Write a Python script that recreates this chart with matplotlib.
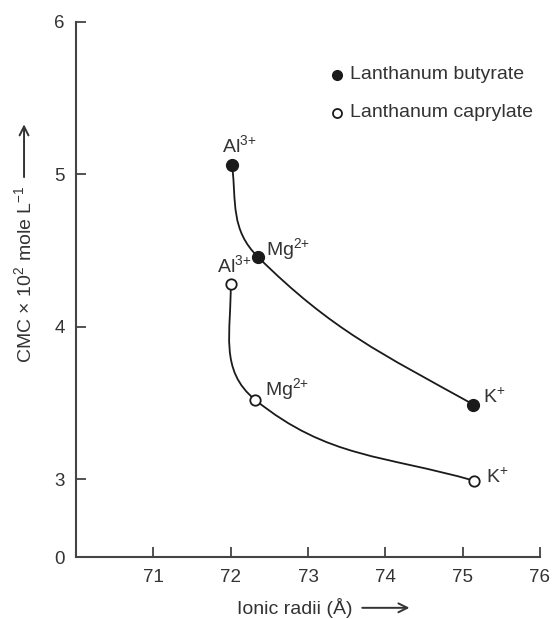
import numpy as np
import matplotlib
matplotlib.use("Agg")
import matplotlib.pyplot as plt
from matplotlib.path import Path
from matplotlib.patches import PathPatch
from matplotlib.text import OffsetFrom

# ---------------- data ----------------
ions = ["Al$^{3{+}}$", "Mg$^{2{+}}$", "K$^{{+}}$"]
butyrate_x = [72.02, 72.35, 75.14]
butyrate_y = [5.06, 4.46, 3.49]
caprylate_x = [72.00, 72.32, 75.15]
caprylate_y = [4.28, 3.52, 2.99]
series_labels = ["Lanthanum butyrate", "Lanthanum caprylate"]
x_ticks = [71, 72, 73, 74, 75, 76]
y_tick_values = [3, 4, 5, 6]
y_tick_labels = ["0", "3", "4", "5", "6"]
y_break_bottom = 2.49   # position of the "0" label on the broken axis

plt.rcParams["font.family"] = ["Liberation Sans", "DejaVu Sans"]
plt.rcParams["mathtext.fontset"] = "custom"
plt.rcParams["mathtext.rm"] = "Liberation Sans"
plt.rcParams["mathtext.it"] = "Liberation Sans:italic"
plt.rcParams["mathtext.bf"] = "Liberation Sans:bold"

TXT = "#333333"
INK = "#1a1a1a"

fig = plt.figure(figsize=(5.54, 6.19), dpi=100)
ax = fig.add_axes([76 / 554, 1 - 557 / 619, 464 / 554, 535 / 619])
ax.set_xlim(70, 76)
ax.set_ylim(y_break_bottom, 6)
for s in ["top", "right"]:
    ax.spines[s].set_visible(False)
for s in ["left", "bottom"]:
    ax.spines[s].set_linewidth(1.5)
    ax.spines[s].set_color("#444444")

ax.set_xticks(x_ticks)
ax.set_xticklabels([str(t) for t in x_ticks])
ax.set_yticks([y_break_bottom] + y_tick_values)
ax.set_yticklabels(y_tick_labels)
ax.tick_params(axis="both", direction="in", length=7, width=1.3, color="#444444",
               labelsize=13.5, labelcolor=TXT)
ax.tick_params(axis="x", pad=9)
ax.tick_params(axis="y", pad=8)
ax.yaxis.get_major_ticks()[0].tick1line.set_visible(False)


def smooth_curve(xs, ys, start_deg, end_deg, k):
    P = ax.transData.transform(np.column_stack([xs, ys]))
    n = len(P)
    T = np.zeros_like(P)
    for i in range(1, n - 1):
        d = P[i + 1] - P[i - 1]
        T[i] = d / np.hypot(*d)
    a0, a1 = np.radians(start_deg), np.radians(end_deg)
    T[0] = [np.cos(a0), np.sin(a0)]
    T[-1] = [np.cos(a1), np.sin(a1)]
    verts = [P[0]]
    codes = [Path.MOVETO]
    for i in range(n - 1):
        L = np.hypot(*(P[i + 1] - P[i]))
        verts += [P[i] + T[i] * L * k, P[i + 1] - T[i + 1] * L * k, P[i + 1]]
        codes += [Path.CURVE4] * 3
    verts = ax.transData.inverted().transform(np.array(verts))
    return Path(verts, codes)


ax.add_patch(PathPatch(smooth_curve(butyrate_x, butyrate_y, -84, -29, 0.4),
                       fill=False, lw=1.3, edgecolor=INK, zorder=2))
ax.add_patch(PathPatch(smooth_curve(caprylate_x, caprylate_y, -89, -16, 0.4),
                       fill=False, lw=1.3, edgecolor=INK, zorder=2))

ax.plot(butyrate_x, butyrate_y, "o", ms=8.5, color=INK, mec=INK, ls="none", zorder=3)
ax.plot(caprylate_x, caprylate_y, "o", ms=7.5, mfc="white", mec=INK, mew=1.3,
        ls="none", zorder=3)

# point labels
but_off = [(-7.2, 9.4), (5.8, 1.4), (6.5, 1.4)]
cap_off = [(-10.0, 8.6), (7.2, 3.6), (8.6, -1.4)]
for lab, x, y, off in zip(ions, butyrate_x, butyrate_y, but_off):
    ax.annotate(lab, (x, y), xytext=off, textcoords="offset points",
                fontsize=14, color=TXT, ha="left", va="baseline")
for lab, x, y, off in zip(ions, caprylate_x, caprylate_y, cap_off):
    ax.annotate(lab, (x, y), xytext=off, textcoords="offset points",
                fontsize=14, color=TXT, ha="left", va="baseline")

# legend (manual)
leg_y = [0.901, 0.830]
ax.plot([0.5625], [leg_y[0]], "o", ms=7, color=INK, transform=ax.transAxes, clip_on=False)
ax.plot([0.5625], [leg_y[1]], "o", ms=6.5, mfc="white", mec=INK, mew=1.3,
        transform=ax.transAxes, clip_on=False)
for lab, yy in zip(series_labels, leg_y):
    ax.text(0.5905, yy, lab, transform=ax.transAxes, fontsize=14, color=TXT,
            ha="left", va="center")

# axis titles with arrows
arrow_kw = dict(arrowstyle="->", lw=1.4, color=TXT, mutation_scale=16,
                shrinkA=0, shrinkB=0)
xt = ax.text(0.347, -0.095, "Ionic radii (Å)", transform=ax.transAxes,
             fontsize=14, color=TXT, ha="left", va="center")
ax.annotate("", xy=(41, 0), xycoords=OffsetFrom(xt, (1, 0.5)),
            xytext=(7, 0), textcoords=OffsetFrom(xt, (1, 0.5)), arrowprops=arrow_kw)
yt = ax.text(-0.112, (557 - 363) / 535, "CMC \u00d7 10$^2$ mole L$^{-1}$",
             transform=ax.transAxes, fontsize=14, color=TXT, ha="center",
             va="bottom", rotation=90)
ax.annotate("", xy=(0, 44), xycoords=OffsetFrom(yt, (0.5, 1)),
            xytext=(0, 6), textcoords=OffsetFrom(yt, (0.5, 1)), arrowprops=arrow_kw)

fig.savefig("out.png", dpi=100)
